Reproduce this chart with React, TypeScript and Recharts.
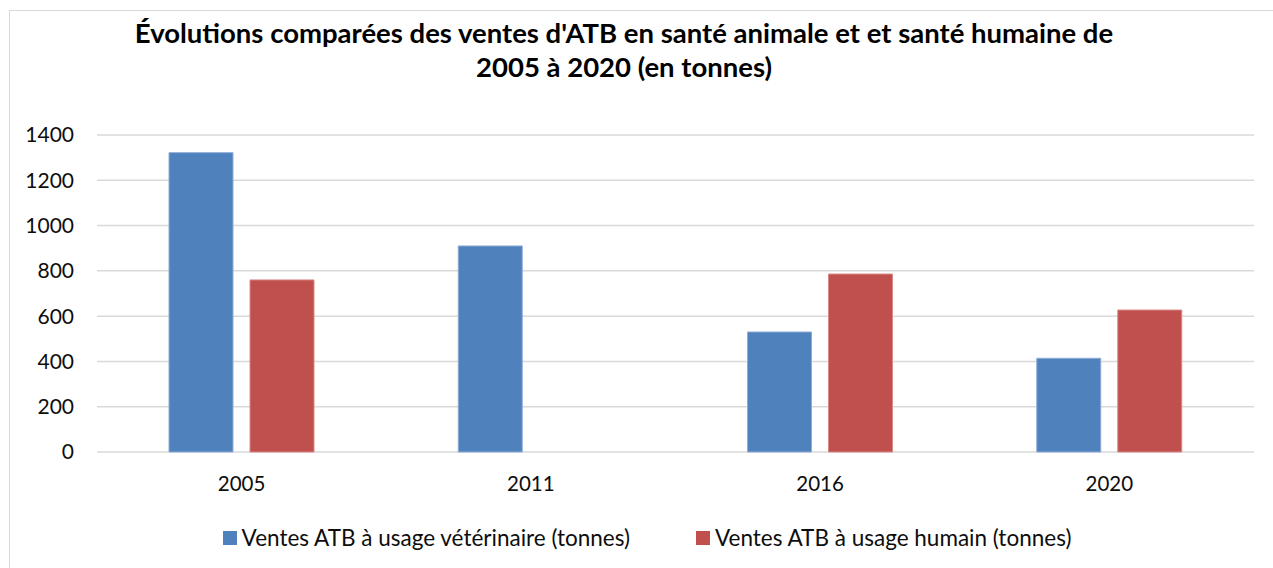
import React from 'react';
import { BarChart, Bar, XAxis, YAxis, CartesianGrid, Legend } from 'recharts';

const years = ['2005', '2011', '2016', '2020'];
const veterinaire = [1322, 910, 530, 414];
const humain = [760, null, 786, 627];
const yTicks = [0, 200, 400, 600, 800, 1000, 1200, 1400];
const seriesNames = ['Ventes ATB à usage vétérinaire (tonnes)', 'Ventes ATB à usage humain (tonnes)'];
const seriesColors = ['#4F81BD', '#C0504D'];
const seriesStrokes = ['#8fadd6', '#d98a88'];
const titleLines = ["Évolutions comparées des ventes d'ATB en santé animale et et santé humaine de", '2005 à 2020 (en tonnes)'];

const data = years.map((y, i) => ({ year: y, vet: veterinaire[i], hum: humain[i] }));

const FONT = 'Lato, "Noto Sans", sans-serif';

const renderLegend = () => (
  <div style={{ display: 'flex', justifyContent: 'center', alignItems: 'center', width: 1273, height: 35, paddingLeft: 21, boxSizing: 'border-box', fontFamily: FONT, fontSize: 22.5, color: '#0d0d0d' }}>
    {seriesNames.map((n, i) => (
      <div key={n} style={{ display: 'flex', alignItems: 'center', marginRight: i === 0 ? 66 : 0 }}>
        <div style={{ width: 14, height: 14, background: seriesColors[i], marginRight: 5 }} />
        <span>{n}</span>
      </div>
    ))}
  </div>
);

export default function App() {
  return (
    <div style={{ position: 'absolute', left: 0, top: 0, width: 1273, height: 568, background: '#fff', overflow: 'hidden', fontFamily: FONT }}>
      <div style={{ position: 'absolute', left: 9, top: 10, width: 1300, height: 600, borderLeft: '1.5px solid #d9d9d9', borderTop: '1.5px solid #d9d9d9' }} />
      <div style={{ position: 'absolute', left: 0, top: 16, width: 1248, textAlign: 'center', fontWeight: 700, fontSize: 27.5, lineHeight: '34px', color: '#000' }}>
        {titleLines[0]}<br />{titleLines[1]}
      </div>
      <div style={{ position: 'absolute', left: 0, top: 0 }}>
        <BarChart width={1273} height={568} data={data} margin={{ top: 135, right: 19, bottom: 51, left: 0 }} barCategoryGap={72} barGap={17}>
          <CartesianGrid vertical={false} stroke="#d9d9d9" strokeWidth={1.5} />
          <XAxis dataKey="year" axisLine={false} tickLine={false} tickSize={0} tickMargin={24} height={30} tick={{ fontSize: 20.5, fill: '#0d0d0d', fontFamily: FONT }} interval={0} />
          <YAxis domain={[0, 1400]} ticks={yTicks} axisLine={false} tickLine={false} tickSize={0} tickMargin={23} width={97} tick={{ fontSize: 21, fill: '#0d0d0d', fontFamily: FONT }} interval={0} />
          <Legend content={renderLegend} wrapperStyle={{ position: 'absolute', top: 520, left: 0, width: 1273, height: 35 }} />
          <Bar dataKey="vet" name={seriesNames[0]} fill={seriesColors[0]} stroke={seriesStrokes[0]} strokeWidth={1} isAnimationActive={false} />
          <Bar dataKey="hum" name={seriesNames[1]} fill={seriesColors[1]} stroke={seriesStrokes[1]} strokeWidth={1} isAnimationActive={false} />
        </BarChart>
      </div>
    </div>
  );
}
